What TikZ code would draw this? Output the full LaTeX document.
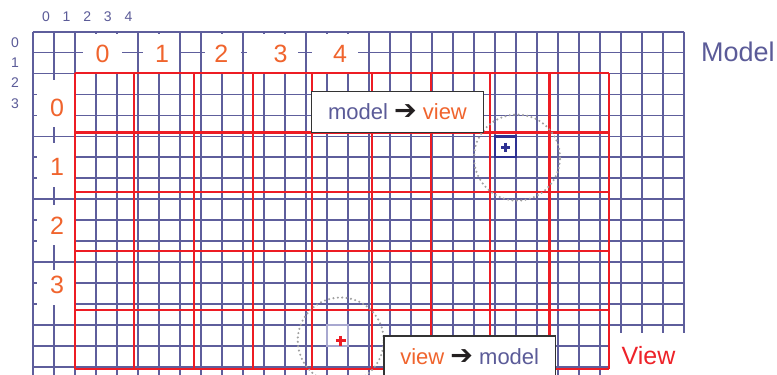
\documentclass[tikz,border=0pt]{standalone}
\usepackage{fontspec}
\setmainfont{Liberation Sans}
\newfontfamily\symfont{DejaVu Sans}
\definecolor{gblue}{HTML}{5E5E9C}
\definecolor{tblue}{HTML}{5B5B98}
\definecolor{rgridc}{HTML}{ED1C24}
\definecolor{orng}{HTML}{F0642D}
\definecolor{vred}{HTML}{EE2229}
\definecolor{dblue}{HTML}{2E3192}
\definecolor{lav}{HTML}{A8A8D0}
\definecolor{dotg}{HTML}{A0A0A0}
\definecolor{boxb}{HTML}{333333}
\definecolor{arrc}{HTML}{231F20}
\tikzset{
  bgrid/.style={draw=gblue, line width=1.7bp},
  rgrid/.style={draw=rgridc, line width=2.3bp},
  olab/.style={text=orng, inner sep=0pt, font=\fontsize{25bp}{30bp}\selectfont},
  nlab/.style={text=tblue, inner sep=0pt, font=\fontsize{14bp}{16bp}\selectfont},
  wbox/.style={fill=white},
  tbox/.style={draw=boxb, line width=1.3bp, fill=white, minimum width=171.6bp, minimum height=40.6bp, inner sep=0pt, font=\fontsize{22bp}{26bp}\selectfont},
  dotcirc/.style={draw=dotg, line width=2.3bp, line cap=round, dash pattern=on 0bp off 4.4bp},
}
\begin{document}
\begin{tikzpicture}[x=1bp,y=-1bp]
\useasboundingbox (0,0) rectangle (777,374);
\fill[white] (0,0) rectangle (777,374);
% blue model grid
\foreach \k in {0,...,31} \draw[bgrid] ({32.7+21.01*\k},31.7) -- ({32.7+21.01*\k},380);
\foreach \k in {0,...,16} \draw[bgrid] (32.7,{31.7+20.94*\k}) -- (684,{31.7+20.94*\k});
% white backgrounds of the labels
\fill[wbox] (83,34) rectangle (122,72);
\fill[wbox] (143,34) rectangle (179,72);
\fill[wbox] (205,34) rectangle (241,72);
\fill[wbox] (247,34) rectangle (298,72);
\fill[wbox] (311.7,34) rectangle (358.3,72);
\fill[wbox] (37.3,80) rectangle (74,126.7);
\fill[wbox] (37.3,143) rectangle (74,187);
\fill[wbox] (37.3,205) rectangle (74,245);
\fill[wbox] (37.3,270) rectangle (74,305);
\fill[wbox] (610,332.5) rectangle (777,380);
% red view grid
\foreach \i in {0,...,9} \draw[rgrid] ({75+59.33*\i},73.3) -- ({75+59.33*\i},369.3);
\foreach \j in {0,...,5} \draw[rgrid] (75,{73.3+59.2*\j}) -- (609,{73.3+59.2*\j});
% blue numbers
\foreach \i in {0,...,4} \node[nlab] (tn\i) at ({46+20.6*\i},16.5) {\i};
\foreach \j in {0,...,3} \node[nlab] (ln\j) at (15,{42.3+20.4*\j}) {\j};
% orange numbers
\foreach \i in {0,...,4} \node[olab] (tc\i) at ({102.7+59.33*\i},53.5) {\i};
\foreach \j in {0,...,3} \node[olab] (lc\j) at (57,{107.5+59.2*\j}) {\j};
% titles
\node[text=tblue, inner sep=0pt, anchor=base west, font=\fontsize{27bp}{32bp}\selectfont] (model) at (701,61.7) {Model};
\node[text=vred, inner sep=0pt, anchor=base west, font=\fontsize{25bp}{30bp}\selectfont] (view) at (621.5,364.3) {View};
% markers
\draw[lav, line width=1.8bp] (326.7,324.9) rectangle (347.7,345.8);
\draw[dblue, line width=2.2bp] (495.2,136.4) rectangle (516.2,157.3);
\draw[dblue, line width=2.8bp] (501.3,147.2) -- (510.3,147.2) (505.8,142.7) -- (505.8,151.7);
\draw[rgridc, line width=3bp] (335.8,340.8) -- (345.8,340.8) (340.8,335.8) -- (340.8,345.8);
\draw[dotcirc] (517,157.6) circle (43bp);
\draw[dotcirc] (340.7,340.5) circle (43bp);
% text boxes
\node[tbox] (mv) at (397.5,112) {{\color{tblue}model} {\symfont\fontsize{27bp}{30bp}\selectfont\color{arrc}➔} {\color{orng}view}};
\node[tbox] (vm) at (469.7,356.3) {{\color{orng}view} {\symfont\fontsize{27bp}{30bp}\selectfont\color{arrc}➔} {\color{tblue}model}};
\end{tikzpicture}
\end{document}
